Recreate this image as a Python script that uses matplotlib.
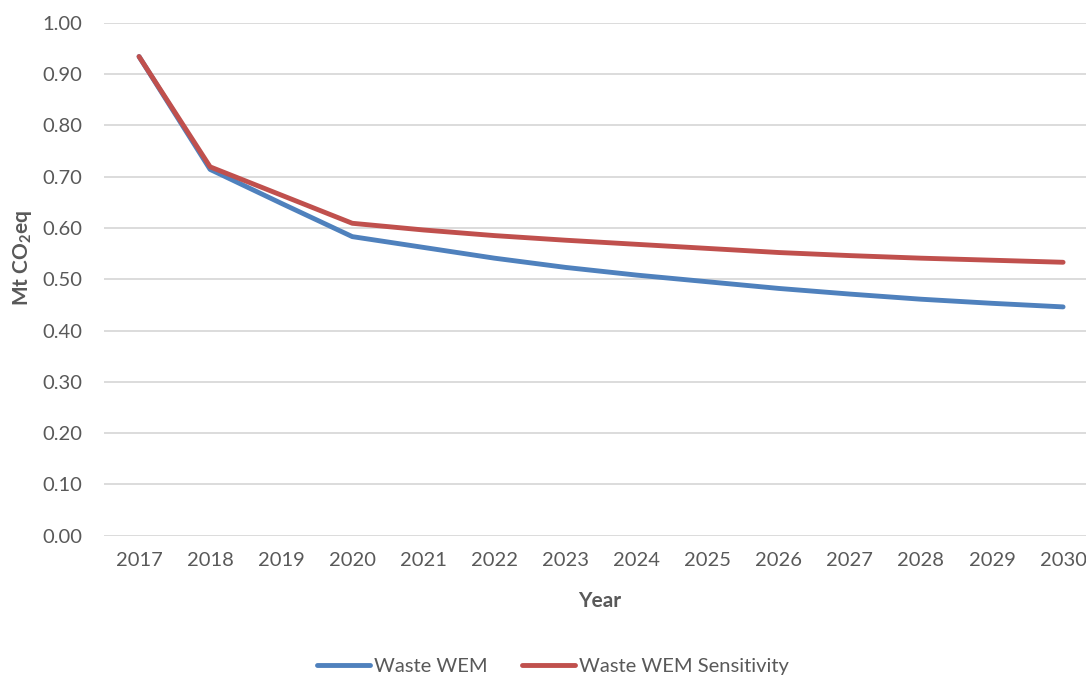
import matplotlib
matplotlib.use("Agg")
import matplotlib.pyplot as plt

years = [2017, 2018, 2019, 2020, 2021, 2022, 2023, 2024, 2025, 2026, 2027, 2028, 2029, 2030]
waste_wem = [0.934, 0.714, 0.648, 0.583, 0.562, 0.541, 0.523, 0.508, 0.495, 0.482, 0.471, 0.461, 0.453, 0.446]
waste_wem_sens = [0.934, 0.719, 0.664, 0.609, 0.596, 0.585, 0.576, 0.568, 0.560, 0.552, 0.546, 0.541, 0.537, 0.533]
y_ticks = [0.0, 0.1, 0.2, 0.3, 0.4, 0.5, 0.6, 0.7, 0.8, 0.9, 1.0]

BLUE = "#4F81BD"
RED = "#C0504D"
TEXT = "#595959"
GRID = "#D9D9D9"

plt.rcParams["font.family"] = ["Lato", "DejaVu Sans"]
plt.rcParams["mathtext.fontset"] = "custom"
plt.rcParams["mathtext.rm"] = "Lato:bold"
plt.rcParams["mathtext.bf"] = "Lato:bold"

W, H = 1086, 679
fig = plt.figure(figsize=(W / 100, H / 100), dpi=100)
left_px, right_px = 103.5, 1086
top_px, bottom_px = 22.7, 535.7
ax = fig.add_axes([left_px / W, (H - bottom_px) / H,
                   (right_px - left_px) / W, (bottom_px - top_px) / H])

x = list(range(len(years)))
ax.plot(x, waste_wem, color=BLUE, lw=3.5, solid_capstyle="round",
        solid_joinstyle="round", label="Waste WEM", zorder=3)
ax.plot(x, waste_wem_sens, color=RED, lw=3.5, solid_capstyle="round",
        solid_joinstyle="round", label="Waste WEM Sensitivity", zorder=4)

ax.set_ylim(0, 1.0)
ax.set_xlim(-0.5, -0.5 + (right_px - left_px) / 71.08)
ax.set_yticks(y_ticks)
ax.set_yticklabels([f"{v:.2f}" for v in y_ticks])
ax.set_xticks(x)
ax.set_xticklabels([str(y) for y in years])
ax.grid(axis="y", color=GRID, lw=1.3, zorder=0)
ax.set_axisbelow(True)
for s in ax.spines.values():
    s.set_visible(False)
ax.tick_params(axis="both", length=0, labelsize=14.5, colors=TEXT)
ax.tick_params(axis="y", pad=15)
ax.tick_params(axis="x", pad=12)

fig.text(600 / W, 1 - 601 / H, "Year", ha="center", va="center",
         fontsize=15, fontweight="bold", color=TEXT)
fig.text(22 / W, 1 - 258 / H, r"Mt CO$_2$eq", ha="center", va="center",
         rotation=90, fontsize=15, fontweight="bold", color=TEXT)

leg = fig.legend(loc="center", bbox_to_anchor=(553 / W, 1 - 666 / H), ncol=2,
                 frameon=False, fontsize=14.5, handlelength=2.6,
                 handletextpad=0.2, columnspacing=1.75)
for t in leg.get_texts():
    t.set_color(TEXT)

fig.savefig("out.png", dpi=100, facecolor="white")
